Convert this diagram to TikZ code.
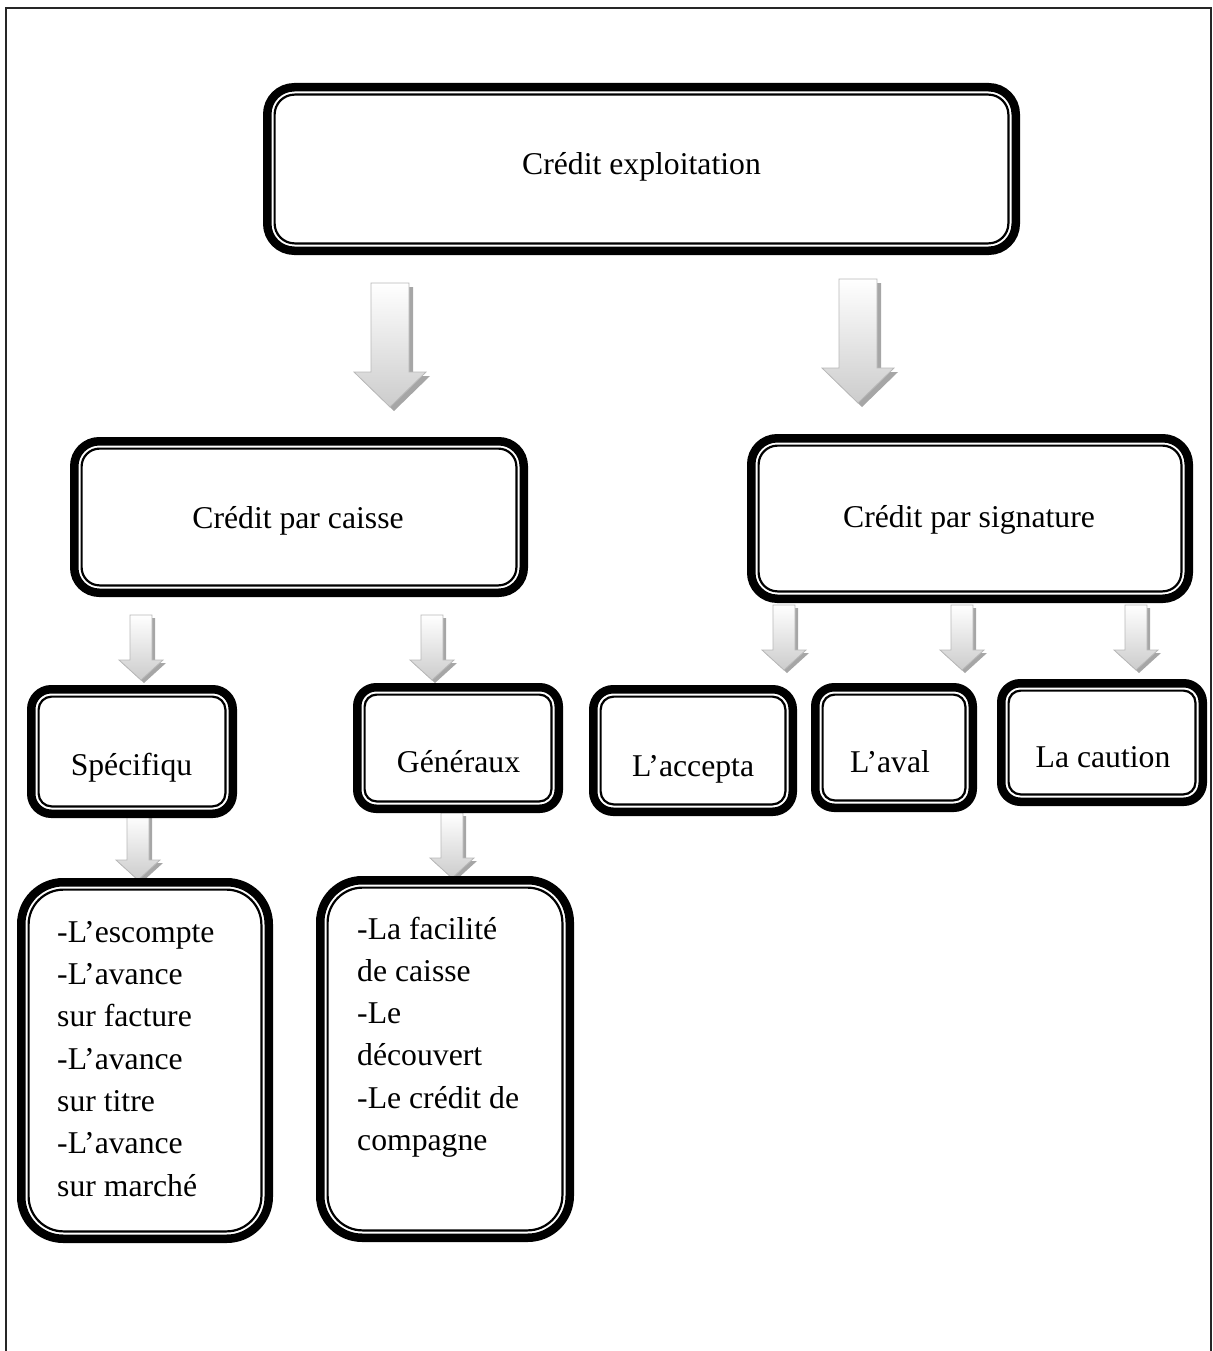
\documentclass[tikz,border=0pt]{standalone}
\usepackage{fontspec}
\setmainfont{Liberation Serif}
\begin{document}
\begin{tikzpicture}[x=1pt,y=-1pt,
  boxnode/.style={draw=none,fill=white,inner sep=0pt,outer sep=0pt},
  outerline/.style={line width=8.5pt,draw=black},
  innerline/.style={line width=2.2pt,draw=black},
  lbl/.style={inner sep=0pt,anchor=base,font=\fontsize{31.7}{42.3}\selectfont},
  lst/.style={inner sep=0pt,anchor=base west,align=left,font=\fontsize{31.7}{42.3}\selectfont},
  arrowshadow/.style={fill=black!35,draw=none},
  arrowbody/.style={top color=white,bottom color=black!20,draw=black!28,line width=0.8pt},
  bigarrow/.pic={
    \fill[arrowshadow] (-15,4) -- (23,4) -- (23,93) -- (40,93) -- (4,128) -- (-32,93) -- (-15,93) -- cycle;
    \path[arrowbody] (-19,0) -- (19,0) -- (19,89) -- (36,89) -- (0,124) -- (-36,89) -- (-19,89) -- cycle;
  },
  smallarrow/.pic={
    \fill[arrowshadow] (-8,3) -- (14,3) -- (14,48) -- (25,48) -- (3,68) -- (-19,48) -- (-8,48) -- cycle;
    \path[arrowbody] (-11,0) -- (11,0) -- (11,45) -- (22,45) -- (0,65) -- (-22,45) -- (-11,45) -- cycle;
  }
]
\useasboundingbox (0,0) rectangle (1212,1351);

% page frame, open at the bottom
\draw[line width=2pt,draw=black!85] (6,1351) -- (6,8) -- (1210.5,8) -- (1210.5,1351);

% block arrows
\pic (a-top-caisse) at (390,283) {bigarrow};
\pic (a-top-sig) at (858,279) {bigarrow};
\pic (a-caisse-spec) at (141,615) {smallarrow};
\pic (a-caisse-gen) at (432,615) {smallarrow};
\pic (a-spec-esc) at (138,815) {smallarrow};
\pic (a-gen-fac) at (452,813) {smallarrow};
\pic (a-sig-acc) at (784,605) {smallarrow};
\pic (a-sig-aval) at (962,605) {smallarrow};
\pic (a-sig-caut) at (1136,605) {smallarrow};

% box shapes (outer edge = node border)
\node[boxnode,minimum width=757pt,minimum height=172pt] (top) at (641.5,169) {};
\node[boxnode,minimum width=458pt,minimum height=160pt] (caisse) at (299,517) {};
\node[boxnode,minimum width=446pt,minimum height=169pt] (sig) at (970,518.5) {};
\node[boxnode,minimum width=210pt,minimum height=133pt] (spec) at (132,751.5) {};
\node[boxnode,minimum width=210pt,minimum height=130pt] (gen) at (458,748) {};
\node[boxnode,minimum width=208pt,minimum height=131pt] (acc) at (693,750.5) {};
\node[boxnode,minimum width=166pt,minimum height=129pt] (aval) at (894,747.5) {};
\node[boxnode,minimum width=210pt,minimum height=127pt] (caut) at (1102,742.5) {};
\node[boxnode,minimum width=256pt,minimum height=365pt] (esc) at (145,1060.5) {};
\node[boxnode,minimum width=258pt,minimum height=366pt] (fac) at (445,1059) {};

% thick-thin double borders
\foreach \b/\r in {top/31,caisse/29,sig/30,spec/24,gen/23,acc/24,aval/23,caut/23,esc/46,fac/46}{
  \draw[outerline,rounded corners=\r pt-4pt]
    ([xshift=4.25pt,yshift=-4.25pt]\b.north west) rectangle ([xshift=-4.25pt,yshift=4.25pt]\b.south east);
  \draw[innerline,rounded corners=\r pt-11pt]
    ([xshift=11.6pt,yshift=-11.6pt]\b.north west) rectangle ([xshift=-11.6pt,yshift=11.6pt]\b.south east);
}

% labels
\node[lbl] (top-t) at (641.5,175) {Crédit exploitation};
\node[lbl] (caisse-t) at (298,528) {Crédit par caisse};
\node[lbl] (sig-t) at (969,527) {Crédit par signature};
\node[lbl] (spec-t) at (131.5,775) {Spécifiqu};
\node[lbl] (gen-t) at (458.5,772) {Généraux};
\node[lbl] (acc-t) at (693,776) {L’accepta};
\node[lbl] (aval-t) at (890,772) {L’aval};
\node[lbl] (caut-t) at (1103,767) {La caution};
% multi-line labels: anchored on the baseline of their last line
\node[lst] (esc-t) at (57,1196) {-L’escompte\\-L’avance\\sur facture\\-L’avance\\sur titre\\-L’avance\\sur marché};
\node[lst] (fac-t) at (357,1150.5) {-La facilité\\de caisse\\-Le\\découvert\\-Le crédit de\\compagne};
\end{tikzpicture}
\end{document}
